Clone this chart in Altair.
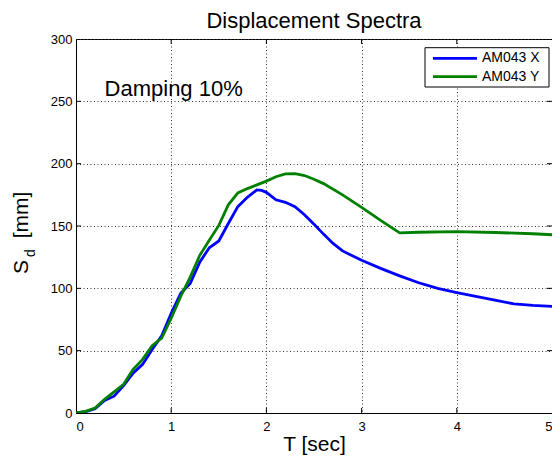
import altair as alt
import pandas as pd

# ---- data ----
series_names = ["AM043 X", "AM043 Y"]
series_colors = ["#0000FF", "#008000"]

t_x = [0, 0.1, 0.2, 0.3, 0.4, 0.5, 0.6, 0.7, 0.8, 0.9, 1.0, 1.1, 1.2, 1.3, 1.4,
       1.5, 1.6, 1.7, 1.8, 1.9, 1.95, 2.0, 2.1, 2.2, 2.3, 2.4, 2.5, 2.6, 2.7,
       2.8, 3.0, 3.2, 3.4, 3.6, 3.8, 4.0, 4.2, 4.4, 4.6, 4.8, 5.0]
sd_x = [0, 1, 3.5, 10, 13.5, 22, 32, 39, 51, 62, 80, 96, 104, 121, 132.5,
        138, 152, 165.5, 173, 179, 178.5, 177, 171, 169, 165.5, 159, 151.5, 143.5, 136,
        130, 122.5, 116, 110, 104.5, 100, 96.5, 93.5, 90.5, 87.5, 86.3, 85.5]

t_y = [0, 0.1, 0.2, 0.3, 0.4, 0.5, 0.6, 0.7, 0.8, 0.9, 1.0, 1.1, 1.2, 1.3, 1.4,
       1.5, 1.6, 1.7, 1.8, 1.9, 2.0, 2.1, 2.2, 2.3, 2.4, 2.5, 2.6, 2.8, 3.0,
       3.2, 3.4, 3.6, 4.0, 4.4, 4.8, 5.0]
sd_y = [0, 1.3, 4, 11, 17, 23, 35, 43, 54, 60, 76, 93.5, 109, 126.5, 138.5,
        150.5, 167, 176.5, 180, 183, 186, 189.5, 191.8, 192, 190.5, 187.5, 184, 175, 165,
        154.5, 144.5, 145, 145.5, 144.8, 143.8, 143]

x_ticks = [0, 1, 2, 3, 4, 5]
y_ticks = [0, 50, 100, 150, 200, 250, 300]
inner_x_ticks = [1, 2, 3, 4]
inner_y_ticks = [50, 100, 150, 200, 250]

annotation_text = "Damping 10%"
annotation_t = 0.3
annotation_sd = 254

title_text = "Displacement Spectra"
x_title = "T [sec]"

FONT = "Liberation Sans"
W, H = 476, 374

rows = []
for t, s in zip(t_x, sd_x):
    rows.append({"T": t, "Sd": s, "series": series_names[0]})
for t, s in zip(t_y, sd_y):
    rows.append({"T": t, "Sd": s, "series": series_names[1]})
df = pd.DataFrame(rows)

xscale = alt.Scale(domain=[0, 5], nice=False, zero=False)
yscale = alt.Scale(domain=[0, 300], nice=False, zero=False)

grid_style = dict(grid=True, gridDash=[1, 2.5], gridColor="#333333", gridWidth=1)

lines = alt.Chart(df).mark_line(strokeWidth=2.8, clip=True).encode(
    x=alt.X("T:Q", scale=xscale,
            axis=alt.Axis(values=x_ticks, title=x_title, format="d",
                          titleFontSize=21, titleFont=FONT, titleFontWeight="normal",
                          titleColor="black", titleBaseline="alphabetic", titlePadding=17,
                          labelFontSize=13, labelFont=FONT, labelColor="black",
                          labelPadding=7, ticks=False, tickSize=0,
                          domainColor="black", domainWidth=1, **grid_style)),
    y=alt.Y("Sd:Q", scale=yscale,
            axis=alt.Axis(values=y_ticks, title=None, format="d",
                          labelFontSize=13, labelFont=FONT, labelColor="black",
                          labelPadding=4, ticks=False, tickSize=0,
                          domainColor="black", domainWidth=1, **grid_style)),
    color=alt.Color("series:N",
                    scale=alt.Scale(domain=series_names, range=series_colors),
                    legend=None),
    order=alt.Order("T:Q"),
)

# inward tick marks (MATLAB style)
xt = pd.DataFrame({"T": inner_x_ticks})
yt = pd.DataFrame({"Sd": inner_y_ticks})
tick_style = dict(color="black", strokeWidth=1)
bottom_ticks = alt.Chart(xt).mark_rule(**tick_style).encode(
    x=alt.X("T:Q", scale=xscale), y=alt.value(H), y2=alt.value(H - 5))
top_ticks = alt.Chart(xt).mark_rule(**tick_style).encode(
    x=alt.X("T:Q", scale=xscale), y=alt.value(0), y2=alt.value(5))
left_ticks = alt.Chart(yt).mark_rule(**tick_style).encode(
    y=alt.Y("Sd:Q", scale=yscale), x=alt.value(0), x2=alt.value(5))
right_ticks = alt.Chart(yt).mark_rule(**tick_style).encode(
    y=alt.Y("Sd:Q", scale=yscale), x=alt.value(W), x2=alt.value(W - 5))

annot = alt.Chart(pd.DataFrame({"T": [annotation_t], "Sd": [annotation_sd],
                                "label": [annotation_text]})).mark_text(
    align="left", baseline="alphabetic", fontSize=22, font=FONT, color="black"
).encode(x=alt.X("T:Q", scale=xscale), y=alt.Y("Sd:Q", scale=yscale), text="label:N")

# boxed legend in the top-right corner (MATLAB style)
LEG_X0, LEG_X1, LEG_Y0, LEG_Y1 = W - 127, W - 3, 8.7, 48
LEG_ROWS = [19.3, 37.7]
legend_layers = [
    alt.Chart().mark_rect(fill="white", stroke="black", strokeWidth=1).encode(
        x=alt.value(LEG_X0), x2=alt.value(LEG_X1), y=alt.value(LEG_Y0), y2=alt.value(LEG_Y1))
]
for name, col, ry in zip(series_names, series_colors, LEG_ROWS):
    legend_layers.append(
        alt.Chart().mark_rule(color=col, strokeWidth=2.8).encode(
            x=alt.value(LEG_X0 + 8), x2=alt.value(LEG_X0 + 52), y=alt.value(ry)))
    legend_layers.append(
        alt.Chart().mark_text(text=name, align="left", baseline="middle",
                              fontSize=14, font=FONT, color="black").encode(
            x=alt.value(LEG_X0 + 57), y=alt.value(ry)))

# chart title
title_mark = alt.Chart().mark_text(
    text=title_text, align="center", baseline="alphabetic",
    fontSize=22, font=FONT, color="black"
).encode(x=alt.value(W / 2), y=alt.value(-11))

# y-axis title with subscript: S_d [mm]
ytitle_s = alt.Chart().mark_text(
    text="S", angle=270, align="center", baseline="alphabetic",
    fontSize=21, font=FONT, color="black"
).encode(x=alt.value(-48), y=alt.value(228))
ytitle_d = alt.Chart().mark_text(
    text="d", angle=270, align="center", baseline="alphabetic",
    fontSize=14, font=FONT, color="black"
).encode(x=alt.value(-41), y=alt.value(214))
ytitle_mm = alt.Chart().mark_text(
    text="[mm]", angle=270, align="center", baseline="alphabetic",
    fontSize=21, font=FONT, color="black"
).encode(x=alt.value(-48), y=alt.value(176))

chart = alt.layer(
    lines, bottom_ticks, top_ticks, left_ticks, right_ticks, annot,
    *legend_layers, title_mark, ytitle_s, ytitle_d, ytitle_mm
).properties(
    width=W, height=H,
    autosize=alt.AutoSizeParams(type="none"),
    padding={"left": 68, "top": 31, "right": 0, "bottom": 42},
    background="white",
).configure_view(stroke="black", strokeWidth=1)

chart.save("out.html", embed_options={"renderer": "svg", "actions": False})
